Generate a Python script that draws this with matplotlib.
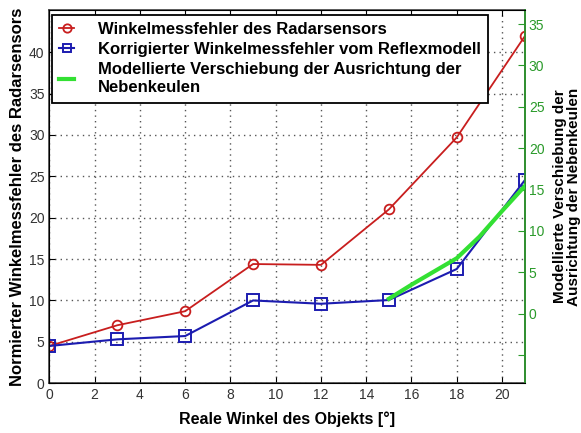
import matplotlib
matplotlib.use("Agg")
import matplotlib.pyplot as plt

plt.rcParams['font.family'] = ['Liberation Sans', 'DejaVu Sans']

# Messwerte
winkel = [0, 3, 6, 9, 12, 15, 18, 21]
fehler_radar = [4.5, 7.0, 8.7, 14.4, 14.3, 21.0, 29.7, 41.9]
fehler_korr = [4.5, 5.3, 5.7, 10.0, 9.6, 10.05, 13.8, 24.5]

# Modellierte Verschiebung (rechte Achse)
winkel_modell = [15, 16, 17, 18, 19, 20, 21]
verschiebung = [1.8, 3.5, 5.1, 6.7, 9.3, 12.4, 15.4]

x_ticks = [0, 2, 4, 6, 8, 10, 12, 14, 16, 18, 20]
y_ticks = [0, 5, 10, 15, 20, 25, 30, 35, 40]
y2_ticks = [-5, 0, 5, 10, 15, 20, 25, 30, 35]
y2_labels = ['', '0', '5', '10', '15', '20', '25', '30', '35']

rot = '#c81e1e'
blau = '#1c1cb0'
gruen = '#33e033'
achse_gruen = '#2a9a2a'

fig = plt.figure(figsize=(5.81, 4.33), dpi=100)
ax = fig.add_axes([0.085, 0.115, 0.818, 0.862])

l1, = ax.plot(winkel, fehler_radar, color=rot, lw=1.3, marker='o', ms=7,
              mfc='none', mec=rot, mew=1.3, zorder=3)
l2, = ax.plot(winkel, fehler_korr, color=blau, lw=1.5, marker='s', ms=8,
              mfc='none', mec=blau, mew=1.4, zorder=3)

ax.set_xlim(0, 21)
ax.set_ylim(0, 45.1)
ax.set_xticks(x_ticks)
ax.set_yticks(y_ticks)
ax.tick_params(direction='in', labelsize=10, labelcolor='#333333',
               top=True, right=True, length=4)
ax.grid(True, linestyle=(0, (1, 3)), color='#555555', lw=1.0)
for s in ax.spines.values():
    s.set_color('#444444')
    s.set_linewidth(1.2)

ax.set_xlabel('Reale Winkel des Objekts [°]', fontsize=11.5, fontweight='bold',
              labelpad=7)
ax.set_ylabel('Normierter Winkelmessfehler des Radarsensors', fontsize=12,
              fontweight='bold', labelpad=3)

ax2 = ax.twinx()
l3, = ax2.plot(winkel_modell, verschiebung, color=gruen, lw=3, zorder=4)
ax2.set_ylim(-8.4, 36.7)
ax2.set_yticks(y2_ticks)
ax2.set_yticklabels(y2_labels)
ax2.tick_params(axis='y', colors=achse_gruen, labelsize=10, direction='in',
                length=5, pad=3)
ax2.spines['right'].set_color(achse_gruen)
ax2.spines['right'].set_linewidth(1.2)
ax2.set_ylabel('Modellierte Verschiebung der\nAusrichtung der Nebenkeulen',
               fontsize=11, fontweight='bold', labelpad=6, linespacing=1.0)

leg = ax.legend([l1, l2, l3],
                ['Winkelmessfehler des Radarsensors',
                 'Korrigierter Winkelmessfehler vom Reflexmodell',
                 'Modellierte Verschiebung der Ausrichtung der\nNebenkeulen'],
                loc='upper left', bbox_to_anchor=(0.005, 0.987),
                fancybox=False, framealpha=1, edgecolor='black',
                prop={'size': 12, 'weight': 'bold'}, handlelength=0.9,
                borderpad=0.45, labelspacing=0.3, handletextpad=1.4,
                borderaxespad=0)
leg.get_frame().set_linewidth(1.3)
leg._legend_box.sep = 5
for t in leg.get_texts():
    t.set_linespacing(1.25)
for h in leg.legend_handles:
    h.set_markersize(6)

fig.savefig('out.png', dpi=100)
